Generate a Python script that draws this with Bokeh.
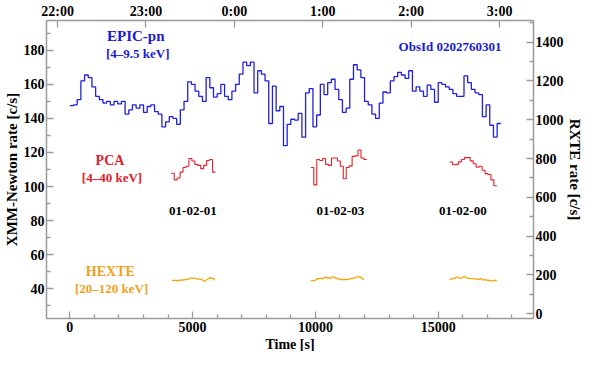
import numpy as np
from bokeh.plotting import figure
from bokeh.models import Range1d, LinearAxis, FixedTicker, Label, Title
from bokeh.embed import file_html
from bokeh.resources import INLINE

# ---------------- data ----------------
EPIC_START = 0          # s
EPIC_BIN = 150          # s
EPIC_RATE = [
    147.5, 148, 151, 162, 165.5, 164, 158.5, 153, 151, 149,
    150, 148, 150, 148.5, 150, 142.5, 145, 148, 146, 148,
    143.5, 147, 148, 144, 142.5, 135, 138, 141, 140, 136.5,
    145, 150, 161.5, 160, 156, 153, 150, 164, 158, 152.5,
    154.5, 160, 153, 151, 156, 160, 166, 173, 171, 173,
    155, 168, 166, 162, 137, 159, 144.5, 147, 124, 136.5,
    139.5, 139, 143, 129, 155, 157.5, 135, 142, 160, 154,
    161, 163, 157, 151, 143.5, 146, 163, 171.5, 168.5, 164,
    150, 148, 142.5, 140, 149, 155.5, 155, 162, 164.5, 167,
    165.5, 163.5, 168, 156, 158.5, 156, 153, 159.5, 157, 149.5,
    161, 160, 158.5, 157, 154.5, 153, 153, 165, 161, 157,
    155, 154, 141, 148, 136, 129, 137,
]

PCA_BIN = 120
PCA_STARTS = [4130, 9815, 15466]
PCA_RATE_1 = [724, 690, 700, 730, 754, 760, 800, 787, 770, 765, 748, 765, 790, 795, 730]
PCA_RATE_2 = [754, 664, 795, 790, 800, 770, 765, 803, 803, 787, 760, 696, 754, 762,
              811, 814, 844, 803, 795]
PCA_RATE_3 = [782, 768, 770, 783, 795, 805, 805, 788, 773, 755, 760, 740, 722, 718, 690, 660]

HEXTE_BIN = 60
HEXTE_STARTS = [4160, 9815, 15466]
HEXTE_RATE_1 = [172, 170, 174, 168, 173, 170, 175, 171, 176, 174, 178, 176, 182, 184, 181,
                185, 183, 178, 180, 176, 179, 170, 166, 172, 176, 182, 186, 180, 183, 172]
HEXTE_RATE_2 = [170, 172, 169, 173, 178, 182, 180, 184, 178, 186, 191, 182, 186, 180, 188,
                192, 183, 186, 178, 181, 175, 178, 174, 177, 175, 179, 176, 182, 180, 185,
                183, 188, 194, 186, 190, 180, 174]
HEXTE_RATE_3 = [176, 178, 182, 180, 186, 190, 183, 185, 181, 187, 194, 186, 183, 184, 180,
                182, 179, 181, 177, 180, 175, 181, 176, 173, 177, 171, 174, 169, 172, 167,
                170, 173, 168]

X_MAJOR = [0, 5000, 10000, 15000]
X_MINOR = [1000, 2000, 3000, 4000, 6000, 7000, 8000, 9000, 11000, 12000, 13000, 14000,
           16000, 17000, 18000]
LEFT_MAJOR = [40, 60, 80, 100, 120, 140, 160, 180]
LEFT_MINOR = [30, 50, 70, 90, 110, 130, 150, 170, 190]
RIGHT_MAJOR = [0, 200, 400, 600, 800, 1000, 1200, 1400]
RIGHT_MINOR = [100, 300, 500, 700, 900, 1100, 1300, 1500]
CLOCK_TIMES = [-500, 3100, 6700, 10300, 13900, 17500]
CLOCK_LABELS = ["22:00", "23:00", "0:00", "1:00", "2:00", "3:00"]
OBS_IDS = ["01-02-01", "01-02-03", "01-02-00"]
OBS_TIMES = [5011, 11016, 16004]

# ---------------- styles ----------------
FONT = "Liberation Serif"
BLUE = "#2020e0"
BLUE_TXT = "#1a1ad0"
RED = "#e8202a"
ORANGE = "#f5a300"
AXIS_GREY = "#9a9a9a"

p = figure(width=584, height=351,
           x_range=Range1d(-950, 18880), y_range=Range1d(22.5, 197.5),
           output_backend="svg", toolbar_location=None, min_border=0)
p.outline_line_color = None
p.grid.visible = False
p.background_fill_color = "white"
p.border_fill_color = "white"
p.extra_y_ranges = {"rxte": Range1d(-25, 1512)}


def style_axis(ax, minor=True):
    ax.axis_line_color = AXIS_GREY
    ax.axis_line_width = 1.5
    ax.major_tick_line_color = AXIS_GREY
    ax.minor_tick_line_color = AXIS_GREY if minor else None
    ax.major_tick_line_width = 1.3
    ax.minor_tick_line_width = 1.3
    ax.major_tick_in = 7
    ax.major_tick_out = 0
    ax.minor_tick_in = 4
    ax.minor_tick_out = 0
    ax.major_label_text_font = FONT
    ax.major_label_text_font_style = "bold"
    ax.major_label_text_font_size = "14px"
    ax.major_label_text_color = "black"
    ax.axis_label_text_font = FONT
    ax.axis_label_text_font_style = "bold"
    ax.axis_label_text_font_size = "15px"
    ax.axis_label_text_color = "black"


xa = p.xaxis[0]
xa.ticker = FixedTicker(ticks=X_MAJOR, minor_ticks=X_MINOR)
style_axis(xa)
xa.axis_label = None
xa.major_label_standoff = 3

ya = p.yaxis[0]
ya.ticker = FixedTicker(ticks=LEFT_MAJOR, minor_ticks=LEFT_MINOR)
ya.axis_label = "XMM-Newton rate [c/s]"
style_axis(ya)
ya.major_label_standoff = 2
ya.axis_label_standoff = 1

ra = LinearAxis(y_range_name="rxte", axis_label=None,
                ticker=FixedTicker(ticks=RIGHT_MAJOR, minor_ticks=RIGHT_MINOR))
style_axis(ra)
ra.major_label_standoff = 2
p.add_layout(ra, "right")

ta = LinearAxis(ticker=FixedTicker(ticks=CLOCK_TIMES, minor_ticks=[]), axis_label=None,
                major_label_overrides={t: l for t, l in zip(CLOCK_TIMES, CLOCK_LABELS)})
style_axis(ta, minor=False)
ta.major_label_standoff = 2
p.add_layout(ta, "above")

# axis titles on the bottom and right
for side, text, size in (("below", "Time [s]", "14px"), ("right", "RXTE rate [c/s]", "15px")):
    p.add_layout(Title(text=text, align="center", standoff=0, offset=0,
                       text_font=FONT, text_font_style="bold", text_font_size=size,
                       text_color="black"), side)

# ---------------- EPIC-pn ----------------
epic_t = EPIC_START + EPIC_BIN * np.arange(len(EPIC_RATE) + 1)
epic_y = EPIC_RATE + [EPIC_RATE[-1]]
p.step(epic_t, epic_y, mode="after", line_color=BLUE, line_width=1.3)

# ---------------- PCA ----------------
for start, rate in zip(PCA_STARTS, [PCA_RATE_1, PCA_RATE_2, PCA_RATE_3]):
    tt = start + PCA_BIN * np.arange(len(rate) + 1)
    p.step(tt, rate + [rate[-1]], mode="after", line_color=RED, line_width=1.1,
           y_range_name="rxte")

# ---------------- HEXTE ----------------
for start, rate in zip(HEXTE_STARTS, [HEXTE_RATE_1, HEXTE_RATE_2, HEXTE_RATE_3]):
    tt = start + HEXTE_BIN * np.arange(len(rate))
    p.line(tt, rate, line_color=ORANGE, line_width=1.2, y_range_name="rxte")

# ---------------- labels ----------------
def lab(x, y, text, color, size):
    p.add_layout(Label(x=x, y=y, text=text, text_color=color, text_font=FONT,
                       text_font_style="bold", text_font_size=size,
                       text_align="center", text_baseline="middle"))


lab(2685, 188.2, "EPIC-pn", BLUE_TXT, "15px")
lab(2765, 178.2, "[4\u20139.5 keV]", BLUE_TXT, "13px")
lab(15481, 182.2, "ObsId 0202760301", BLUE_TXT, "13px")
lab(1636, 115.3, "PCA", "#e0202a", "14px")
lab(1716, 105.4, "[4\u201340 keV]", "#e0202a", "13px")
lab(1648, 50.3, "HEXTE", "#f0a020", "14px")
lab(1700, 40.4, "[20\u2013120 keV]", "#f0a020", "13px")
for t, name in zip(OBS_TIMES, OBS_IDS):
    lab(t, 85.4, name, "black", "13px")

open("out.html", "w").write(file_html(p, INLINE))
